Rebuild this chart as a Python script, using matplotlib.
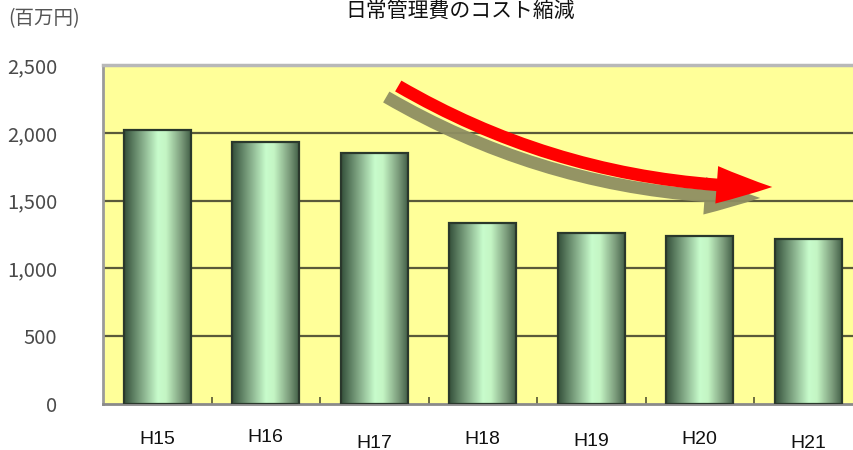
import matplotlib
matplotlib.use("Agg")
import matplotlib.pyplot as plt
import numpy as np
from matplotlib.colors import LinearSegmentedColormap
from matplotlib.patches import FancyArrowPatch
from matplotlib.path import Path
import matplotlib.transforms as mtransforms

categories = ["H15", "H16", "H17", "H18", "H19", "H20", "H21"]
values = [2020, 1930, 1850, 1335, 1260, 1240, 1220]
yticks = [0, 500, 1000, 1500, 2000, 2500]
ytick_labels = ["0", "500", "1,000", "1,500", "2,000", "2,500"]
title = "日常管理費のコスト縮減"
unit_label = "(百万円)"

plt.rcParams['font.family'] = ['Noto Sans CJK JP', 'DejaVu Sans']

fig = plt.figure(figsize=(8.54, 4.5), dpi=100)
ax = fig.add_axes([103/854, 46/450, 751/854, 339/450])
ax.set_facecolor('#ffff99')

x = np.arange(len(categories))

# grid lines
for yv in yticks[1:-1]:
    ax.axhline(yv, color='#5a5a3a', lw=1.6, zorder=1)

cmap = LinearSegmentedColormap.from_list(
    'cyl', [(0.0, '#34503a'), (0.25, '#7fa583'), (0.5, '#c8fccc'),
            (0.62, '#c4f5c4'), (0.85, '#7a9a7a'), (1.0, '#3e5a42')])
grad = np.linspace(0, 1, 256).reshape(1, -1)

bars = ax.bar(x, values, width=0.62, color='none', edgecolor='#2a382c',
              linewidth=1.6, zorder=3)
for b in bars:
    x0, y0 = b.get_x(), b.get_y()
    w, h = b.get_width(), b.get_height()
    im = ax.imshow(grad, cmap=cmap, aspect='auto',
                   extent=[x0, x0 + w, y0, y0 + h], zorder=2,
                   interpolation='bicubic')
    im.set_clip_path(b)

ax.set_xlim(-0.5, -0.5 + 751/108.5)
ax.set_ylim(0, 2500)

ax.set_yticks(yticks)
ax.set_yticklabels(ytick_labels, fontsize=14.5, color='#4a4a4a')
ax.tick_params(axis='y', length=0, pad=33)

ax.set_xticks(x)
ax.set_xticklabels([])
ax.set_xticks(np.arange(0.5, 6.5, 1), minor=True)
ax.tick_params(axis='x', which='major', length=0)
ax.tick_params(axis='x', which='minor', direction='in', length=5,
               color='#555533', width=1.2)

label_offsets = [-36, -34, -39, -36, -37, -35, -39]
for xi, lab, off in zip(x, categories, label_offsets):
    ax.annotate(lab, xy=(xi, 0), xycoords='data',
                xytext=(0, off), textcoords='offset pixels',
                ha='center', va='center', fontsize=14,
                family=['Liberation Sans', 'DejaVu Sans'], color='#111111')

ax.spines['right'].set_visible(False)
ax.spines['top'].set_color('#b8b8b8')
ax.spines['top'].set_linewidth(2.5)
ax.spines['left'].set_color('#9a9a9a')
ax.spines['left'].set_linewidth(2)
ax.spines['bottom'].set_color('#8a8a8a')
ax.spines['bottom'].set_linewidth(2)

# decorative curved arrow (shadow + red), a quadratic curve
def xd(px):
    return (px - 157) / 108.5

def yd(py):
    return (404 - py) / 0.1356

pts = [(398, 86), (570, 186), (772, 187)]
verts = [(xd(px), yd(py)) for px, py in pts]
codes = [Path.MOVETO, Path.CURVE3, Path.CURVE3]
arrow_path = Path(verts, codes)

style = "simple,head_length=2.0,head_width=1.35,tail_width=0.45"
shadow_off = mtransforms.offset_copy(ax.transData, fig=fig, x=-12, y=-11, units='dots')
sh = FancyArrowPatch(path=arrow_path, arrowstyle=style,
                     mutation_scale=20, color='#8e8e62', alpha=0.95,
                     lw=0, zorder=4, transform=shadow_off)
ax.add_patch(sh)
ar = FancyArrowPatch(path=arrow_path, arrowstyle=style,
                     mutation_scale=20, color='#ff0000', lw=0, zorder=5,
                     transform=ax.transData)
ax.add_patch(ar)

fig.text(0.539, 1 - 11/450, title, ha='center', va='center', fontsize=15,
         color='#111111')
fig.text(8/854, 1 - 19/450, unit_label, ha='left', va='center', fontsize=14,
         color='#555555')

fig.savefig('out.png', dpi=100)
